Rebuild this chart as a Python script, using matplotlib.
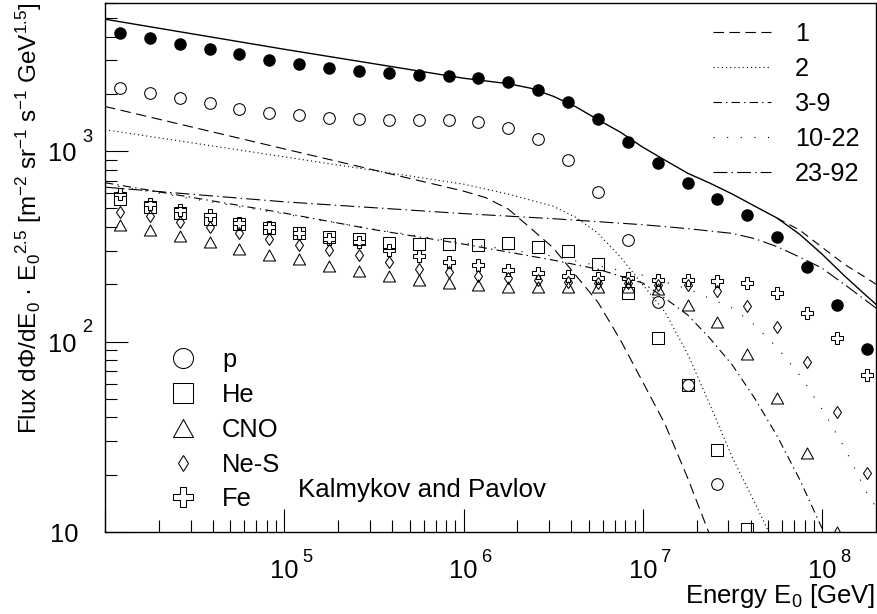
import numpy as np
import matplotlib.pyplot as plt
from matplotlib.lines import Line2D
from matplotlib.path import Path
from matplotlib.ticker import LogLocator, NullFormatter

plt.rcParams['font.family'] = ['Liberation Sans', 'DejaVu Sans']
plt.rcParams['mathtext.fontset'] = 'custom'
plt.rcParams['mathtext.rm'] = 'Liberation Sans'
plt.rcParams['mathtext.it'] = 'Liberation Sans:italic'
plt.rcParams['mathtext.default'] = 'regular'
plt.rcParams['lines.scale_dashes'] = False


# energy bin centres [GeV]
energy = [1.21e4, 1.78e4, 2.61e4, 3.83e4, 5.62e4, 8.25e4,
          1.21e5, 1.78e5, 2.61e5, 3.83e5, 5.62e5, 8.25e5,
          1.21e6, 1.78e6, 2.61e6, 3.83e6, 5.62e6, 8.25e6,
          1.21e7, 1.78e7, 2.61e7, 3.83e7, 5.62e7, 8.25e7,
          1.21e8, 1.78e8]

# flux * E^2.5
flux_all = [4150, 3906, 3646, 3420, 3219, 3029, 2861, 2727, 2652, 2576, 2506, 2476,
            2408, 2311, 2108, 1815, 1467, 1119, 862, 682, 562, 460, 355, 245, 155, 91]
flux_p = [2134, 2009, 1905, 1793, 1667, 1596, 1540, 1490, 1472, 1455, 1455, 1455,
          1425, 1331, 1160, 897, 611, 341, 162, 58.9, 17.9]
flux_he = [558, 510, 474, 443, 414, 393, 374, 355, 344, 330, 325, 325,
           321, 328, 315, 300, 254, 179, 104, 58.9, 26.9, 10.4]
flux_cno = [409, 385, 358, 334, 308, 284, 270, 249, 235, 221, 210, 202,
            198, 194, 194, 193, 193, 193, 190, 155, 126, 85.7, 50.3, 26.0, 10.0]
flux_nes = [480, 456, 425, 398, 370, 344, 321, 302, 284, 262, 242, 232,
            221, 215, 210, 206, 202, 203, 198, 198, 184, 154, 120, 78.3, 42.8, 20.4]
flux_fe = [595, 531, 490, 461, 420, 398, 374, 345, 334, 302, 281, 262,
           252, 237, 228, 221, 215, 215, 210, 210, 208, 204, 180, 141, 104, 66.7]

# model curves (energy, flux)
tot_e = [1e4, 1e5, 1e6, 1.78e6, 2.37e6, 3.16e6, 4.22e6, 5.62e6, 7.5e6, 1e7, 1.33e7,
         1.78e7, 2.37e7, 3.16e7, 4.22e7, 5.62e7, 7.5e7, 1e8, 1.33e8, 1.78e8, 2e8]
tot_f = [4932, 3429, 2416, 2261, 2141, 1944, 1713, 1464, 1258, 1049, 897,
         766, 679, 595, 514, 445, 366, 288, 222, 173, 157]

tot2_e = [5.62e7, 7.5e7, 1e8, 1.33e8, 1.78e8, 2e8]
tot2_f = [445, 385, 313, 255, 215, 200]

z1_e = [1e4, 1e5, 1e6, 1.33e6, 1.78e6, 2.37e6, 3.16e6, 5.62e6, 7.5e6, 1e7, 1.33e7,
        1.78e7, 2.33e7, 2.82e7]
z1_f = [1717, 1028, 617, 570, 496, 394, 311, 161, 102, 61.3, 36.9,
        19.2, 10.0, 6.7]

z2_e = [1e4, 1e5, 1e6, 1.78e6, 3.16e6, 4.22e6, 5.62e6, 7.5e6, 1e7, 1.33e7, 1.78e7,
        2.37e7, 3.16e7, 4.22e7, 4.83e7, 5.62e7]
z2_f = [1297, 934, 671, 595, 514, 450, 371, 278, 199, 143, 86,
        46.6, 24.6, 14.2, 10.9, 8.2]

z3_e = [1e4, 1e5, 3.16e5, 1e6, 3.16e6, 5.62e6, 1e7, 1.33e7, 1.78e7, 2.37e7, 3.16e7,
        4.22e7, 5.62e7, 7.5e7, 9.93e7, 1.12e8]
z3_f = [683, 473, 387, 325, 268, 240, 203, 169, 138, 104, 75.3,
        50.2, 31.9, 18.9, 10.6, 8.5]

z10_e = [1e4, 1e5, 3.16e5, 1e6, 3.16e6, 1e7, 1.78e7, 3.16e7, 4.22e7, 5.62e7, 7.5e7,
         1e8, 1.33e8, 1.78e8, 2e8]
z10_f = [671, 467, 390, 329, 281, 223, 189, 150, 122, 93.0, 66.7,
         44.2, 27.9, 16.0, 13.5]

z23_e = [1e4, 1e5, 1e6, 3.16e6, 1e7, 1.78e7, 3.16e7, 4.22e7, 5.62e7, 7.5e7, 1e8,
         1.41e8, 2e8]
z23_f = [647, 542, 470, 442, 411, 392, 370, 347, 315, 278, 243,
         192, 150]

group_labels = ['1', '2', '3-9', '10-22', '23-92']
element_labels = ['p', 'He', 'CNO', 'Ne-S', 'Fe']
x_label_powers = [5, 6, 7, 8]
y_label_powers = [2, 3]

# line styles (dash lengths in points)
ls_1 = (0, (7.5, 4))
ls_2 = (0, (0.8, 2.2))
ls_3 = (0, (6, 3, 1, 3))
ls_10 = (0, (0.8, 9))
ls_23 = (0, (10, 3, 1, 3))

tri = Path([(0, 0.9), (-1, -0.9), (1, -0.9), (0, 0.9)],
           [Path.MOVETO, Path.LINETO, Path.LINETO, Path.CLOSEPOLY])

fig = plt.figure(figsize=(8.77, 6.14), dpi=100)
ax = fig.add_axes([105 / 877, 1 - 532 / 614, 771 / 877, 529 / 614])

ax.set_xscale('log')
ax.set_yscale('log')
ax.set_xlim(1e4, 2e8)
ax.set_ylim(10, 6000)

lw = 0.8
ax.plot(tot_e, tot_f, color='k', lw=1.0)
ax.plot(tot2_e, tot2_f, color='k', lw=lw, linestyle=(0, (6, 4)))
ax.plot(z1_e, z1_f, color='k', lw=lw, linestyle=ls_1)
ax.plot(z2_e, z2_f, color='k', lw=lw, linestyle=ls_2)
ax.plot(z3_e, z3_f, color='k', lw=lw, linestyle=ls_3)
ax.plot(z10_e, z10_f, color='k', lw=lw, linestyle=ls_10)
ax.plot(z23_e, z23_f, color='k', lw=lw, linestyle=ls_23)

mk = dict(ls='none', mfc='none', mec='k', mew=0.75)
ax.plot(energy, flux_all, ls='none', marker='o', ms=8, mfc='k', mec='k')
ax.plot(energy[:len(flux_p)], flux_p, marker='o', ms=8.4, **mk)
ax.plot(energy[:len(flux_he)], flux_he, marker='s', ms=8.4, **mk)
ax.plot(energy[:len(flux_cno)], flux_cno, marker=tri, ms=8.8, **mk)
ax.plot(energy, flux_nes, marker='d', ms=6.1, **mk)
ax.plot(energy, flux_fe, marker='P', ms=8.8, **mk)

# axes frame and ticks
for s in ax.spines.values():
    s.set_linewidth(1.0)
ax.xaxis.set_major_locator(LogLocator(base=10, numticks=100))
ax.xaxis.set_minor_locator(LogLocator(base=10, subs=np.arange(2, 10), numticks=100))
ax.yaxis.set_major_locator(LogLocator(base=10, numticks=100))
ax.yaxis.set_minor_locator(LogLocator(base=10, subs=np.arange(2, 10), numticks=100))
ax.xaxis.set_minor_formatter(NullFormatter())
ax.yaxis.set_minor_formatter(NullFormatter())
ax.tick_params(which='both', direction='in', top=False, right=False,
               labelbottom=False, labelleft=False)
ax.tick_params(which='major', length=16.5, width=0.8)
ax.tick_params(which='minor', length=8.5, width=0.8)

# tick labels written as 10 + raised exponent
xt = ax.get_xaxis_transform()
for p in x_label_powers:
    ax.annotate('10', xy=(10.0 ** p, 0), xycoords=xt, xytext=(0, -32.8),
                textcoords='offset points', ha='center', va='baseline', fontsize=18.4)
    ax.annotate(str(p), xy=(10.0 ** p, 0), xycoords=xt, xytext=(16.6, -21.4),
                textcoords='offset points', ha='center', va='baseline', fontsize=13.2)
yt = ax.get_yaxis_transform()
for p in y_label_powers:
    ax.annotate('10', xy=(0, 10.0 ** p), xycoords=yt, xytext=(-31, -7.3),
                textcoords='offset points', ha='center', va='baseline', fontsize=18.4)
    ax.annotate(str(p), xy=(0, 10.0 ** p), xycoords=yt, xytext=(-12.6, 6.7),
                textcoords='offset points', ha='center', va='baseline', fontsize=13.2)
ax.annotate('10', xy=(0, 10), xycoords=yt, xytext=(-29.5, -7.3),
            textcoords='offset points', ha='center', va='baseline', fontsize=18.4)

fig.text(875 / 877, 1 - 603 / 614, 'Energy E$_0$ [GeV]', ha='right', va='baseline',
         fontsize=18.5)
fig.text(29 / 877, 1 - 2 / 614,
         'Flux dΦ/dE$_0$ · E$_0$$^{2.5}$ [m$^{-2}$ sr$^{-1}$ s$^{-1}$ GeV$^{1.5}$]',
         rotation=90, ha='center', va='top', fontsize=17.5)

ax.text(0.2505, 0.0667, 'Kalmykov and Pavlov', transform=ax.transAxes,
        ha='left', va='baseline', fontsize=18.6)

# legends
line_handles = [Line2D([], [], color='k', lw=lw, linestyle=s)
                for s in [ls_1, ls_2, ls_3, ls_10, ls_23]]
leg1 = ax.legend(line_handles, group_labels, loc='upper left',
                 bbox_to_anchor=(0.788, 0.9646), frameon=False, fontsize=18.2,
                 handlelength=2.3, handletextpad=0.95, labelspacing=0.44,
                 borderpad=0, borderaxespad=0)
ax.add_artist(leg1)

lk = dict(ls='none', mfc='none', mec='k', mew=0.75)
marker_handles = [Line2D([], [], marker='o', ms=14.4, **lk),
                  Line2D([], [], marker='s', ms=13.7, **lk),
                  Line2D([], [], marker=tri, ms=14.4, **lk),
                  Line2D([], [], marker='d', ms=8.1, **lk),
                  Line2D([], [], marker='P', ms=14.4, **lk)]
ax.legend(marker_handles, element_labels, loc='upper left',
          bbox_to_anchor=(0.081, 0.347), frameon=False, fontsize=18.4,
          handlelength=1.2, handletextpad=0.93, labelspacing=0.42,
          borderpad=0, borderaxespad=0)

fig.savefig('out.png', dpi=100)
